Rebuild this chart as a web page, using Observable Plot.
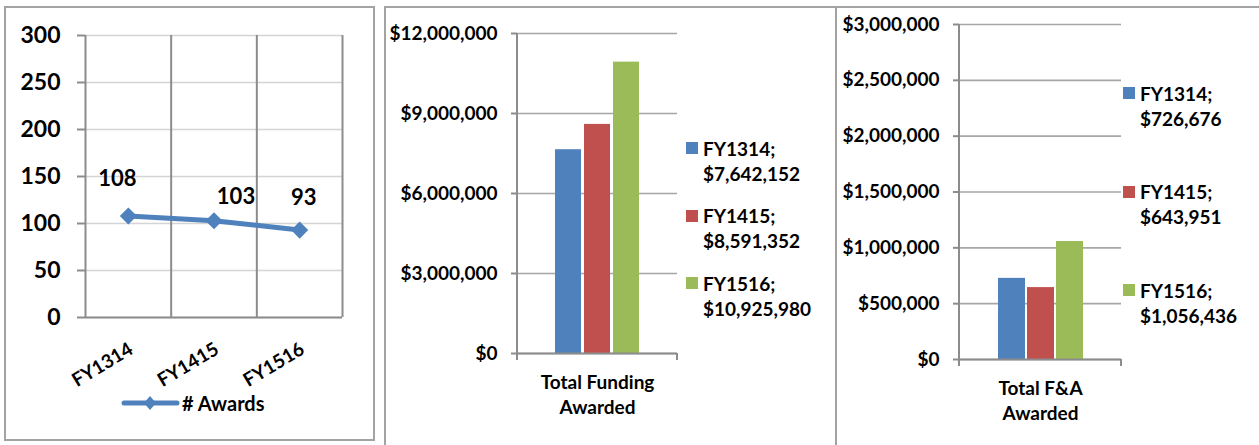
<!DOCTYPE html>
<html><head><meta charset="utf-8">
<script src="https://cdn.jsdelivr.net/npm/d3@7"></script>
<script src="https://cdn.jsdelivr.net/npm/@observablehq/plot@0.6"></script>
<style>
html,body{margin:0;padding:0;background:#fff;}
#page{position:relative;width:1259px;height:445px;overflow:hidden;background:#fff;font-family:Lato,sans-serif;font-weight:bold;color:#000;}
#page svg{position:absolute;top:0;}
.box{position:absolute;box-sizing:border-box;border:2px solid #a3a3a3;}
.leg{position:absolute;font-size:19px;line-height:25px;white-space:pre;}
.sw{position:absolute;width:12px;height:12px;}
</style></head><body><div id="page"></div>
<script>
// ---- data ----
const years = ["FY1314", "FY1415", "FY1516"];
const awards = [108, 103, 93];
const awardTicks = [0, 50, 100, 150, 200, 250, 300];
const awardSeries = "# Awards";

const fundingCategory = "Total Funding\nAwarded";
const funding = [7642152, 8591352, 10925980];
const fundingTicks = [0, 3000000, 6000000, 9000000, 12000000];

const faCategory = "Total F&A\nAwarded";
const fa = [726676, 643951, 1056436];
const faTicks = [0, 500000, 1000000, 1500000, 2000000, 2500000, 3000000];

const colors = ["#4F81BD", "#C0504D", "#9BBB59"];

// ---- helpers ----
const page = document.getElementById("page");
const money = d => "$" + d3.format(",")(d);
const axisGray = "#8c8c8c";
const baseStyle = {fontFamily: "Lato", fontWeight: "bold", color: "#000", background: "transparent", overflow: "visible"};

function addBox(l, t, w, h) {
  const b = document.createElement("div");
  b.className = "box";
  Object.assign(b.style, {left: l + "px", top: t + "px", width: w + "px", height: h + "px"});
  page.appendChild(b);
}

// ---- panel 1: line chart ----
const awardRows = years.map((y, i) => ({i, year: y, value: awards[i]}));
const p1 = Plot.plot({
  width: 380, height: 445,
  marginLeft: 85, marginRight: 38, marginTop: 35, marginBottom: 128,
  style: {...baseStyle, fontSize: "23px"},
  x: {type: "linear", domain: [-0.5, years.length - 0.5], axis: null},
  y: {domain: [0, 300], axis: null},
  marks: [
    Plot.gridY(awardTicks, {stroke: "#d4d4d4", strokeOpacity: 1, strokeWidth: 1.5}),
    Plot.ruleX(d3.range(years.length + 1).map(i => i - 0.5), {stroke: axisGray, strokeWidth: 2}),
    Plot.axisY(awardTicks, {tickSize: 8, tickPadding: 17, stroke: axisGray, strokeWidth: 2, fontSize: 23, label: null}),
    Plot.ruleY([0], {stroke: axisGray, strokeWidth: 2}),
    Plot.text(years, {x: (d, i) => i, y: () => 0, text: d => d, rotate: -31, textAnchor: "end", dx: 3, dy: 30, fontSize: 19}),
    Plot.line(awardRows, {x: "i", y: "value", stroke: colors[0], strokeWidth: 5}),
    Plot.dot(awardRows, {x: "i", y: "value", symbol: "diamond2", r: 7.7, fill: colors[0], stroke: null}),
    Plot.text([awardRows[0]], {x: "i", y: "value", text: "value", dx: -11, dy: -37, fontSize: 22}),
    Plot.text([awardRows[1]], {x: "i", y: "value", text: "value", dx: 22, dy: -24, fontSize: 22}),
    Plot.text([awardRows[2]], {x: "i", y: "value", text: "value", dx: 4, dy: -32, fontSize: 22})
  ]
});
p1.style.left = "0px";
page.appendChild(p1);

// legend panel 1
{
  const lg = document.createElement("div");
  lg.className = "leg";
  Object.assign(lg.style, {left: "120px", top: "391px", fontSize: "20px"});
  lg.innerHTML = `<svg width="60" height="24" style="position:absolute;left:0;top:0">
    <line x1="4" x2="57" y1="12" y2="12" stroke="${colors[0]}" stroke-width="5" stroke-linecap="round"/>
    <path d="M30,5L36,12L30,19L24,12Z" fill="${colors[0]}"/></svg>
    <span style="position:absolute;left:62px;top:0">${awardSeries}</span>`;
  page.appendChild(lg);
}

// ---- bar panels ----
function barPanel({left, width, mL, mR, mT, mB, values, ticks, category, pi, po, legX, legY0, legStep}) {
  const rows = years.map((y, i) => ({year: y, value: values[i]}));
  const p = Plot.plot({
    width, height: 445,
    marginLeft: mL, marginRight: mR, marginTop: mT, marginBottom: mB,
    style: {...baseStyle, fontSize: "19px"},
    x: {domain: years, paddingInner: pi, paddingOuter: po, axis: null},
    y: {domain: [0, ticks[ticks.length - 1]], axis: null},
    color: {domain: years, range: colors},
    marks: [
      Plot.gridY(ticks, {stroke: "#a6a6a6", strokeOpacity: 1, strokeWidth: 1.6}),
      Plot.axisY(ticks, {tickSize: 6, tickPadding: 14, tickFormat: money, stroke: axisGray, strokeWidth: 2, fontSize: 19, label: null}),
      Plot.barY(rows, {x: "year", y: "value", fill: "year"}),
      Plot.ruleY([0], {stroke: axisGray, strokeWidth: 2}),
      Plot.text([category], {frameAnchor: "bottom", text: d => d, lineAnchor: "top", dy: 18, lineHeight: 1.3, fontSize: 19})
    ]
  });
  // axis line and end ticks drawn from the plot's own scales
  const xr = p.scale("x").range, ys = p.scale("y");
  const y0 = ys.apply(0), yTop = ys.apply(ticks[ticks.length - 1]);
  const svg = d3.select(p);
  svg.append("line").attr("x1", xr[0]).attr("x2", xr[0]).attr("y1", yTop).attr("y2", y0 + 7)
    .attr("stroke", axisGray).attr("stroke-width", 2);
  svg.append("line").attr("x1", xr[1]).attr("x2", xr[1]).attr("y1", y0).attr("y2", y0 + 7)
    .attr("stroke", axisGray).attr("stroke-width", 2);
  p.style.left = left + "px";
  page.appendChild(p);
  // legend
  years.forEach((y, i) => {
    const cy = legY0 + i * legStep;
    const sw = document.createElement("div");
    sw.className = "sw";
    Object.assign(sw.style, {left: legX + "px", top: (cy - 6) + "px", background: colors[i]});
    page.appendChild(sw);
    const t = document.createElement("div");
    t.className = "leg";
    Object.assign(t.style, {left: (legX + 17) + "px", top: (cy - 12.5) + "px"});
    t.textContent = y + ";\n" + money(values[i]);
    page.appendChild(t);
  });
}

barPanel({left: 385, width: 452, mL: 132, mR: 160, mT: 33, mB: 92,
  values: funding, ticks: fundingTicks, category: fundingCategory,
  pi: 0.1, po: 1.26, legX: 686, legY0: 148, legStep: 67.5});
barPanel({left: 837, width: 422, mL: 122, mR: 138, mT: 24, mB: 86,
  values: fa, ticks: faTicks, category: faCategory,
  pi: 0.07, po: 1.235, legX: 1123, legY0: 93, legStep: 98.5});

// frames
addBox(4, 6, 371, 435);
addBox(384, 6, 1000, 500);
addBox(835, 6, 1000, 500);
</script></body></html>
